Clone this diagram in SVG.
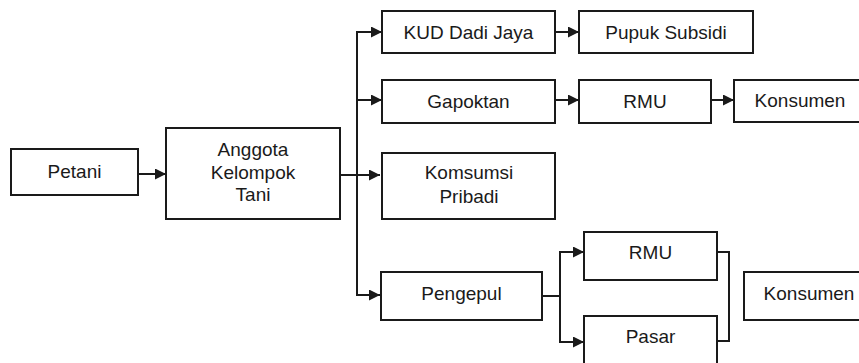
<svg xmlns="http://www.w3.org/2000/svg" width="859" height="363" viewBox="0 0 859 363">
<defs>
<style>
.box{fill:#fff;stroke:#1a1a1a;stroke-width:2}
.t{font-family:"Liberation Sans",Arial,sans-serif;font-size:19px;fill:#1a1a1a;text-anchor:middle}
.c{fill:none;stroke:#1a1a1a;stroke-width:2}
</style>
<marker id="ah" markerUnits="userSpaceOnUse" markerWidth="11" markerHeight="11" refX="11" refY="5.5" orient="auto" viewBox="0 0 11 11">
<path d="M0,0 L11,5.5 L0,11 z" fill="#1a1a1a"/>
</marker>
</defs>
<rect width="859" height="363" fill="#fff"/>
<g id="connectors">
<path class="c" d="M138,174 H166" marker-end="url(#ah)"/>
<path class="c" d="M340,175 H380" marker-end="url(#ah)"/>
<path class="c" d="M357,32 V295"/>
<path class="c" d="M356,32 H382" marker-end="url(#ah)"/>
<path class="c" d="M357,100 H382" marker-end="url(#ah)"/>
<path class="c" d="M356,295 H380" marker-end="url(#ah)"/>
<path class="c" d="M555,32 H579" marker-end="url(#ah)"/>
<path class="c" d="M555,100 H579" marker-end="url(#ah)"/>
<path class="c" d="M711,100 H734" marker-end="url(#ah)"/>
<path class="c" d="M542,296 H560"/>
<path class="c" d="M560,252 V342"/>
<path class="c" d="M559,252 H584" marker-end="url(#ah)"/>
<path class="c" d="M559,342 H584" marker-end="url(#ah)"/>
<path class="c" d="M717,252 H729 V341 H717"/>
</g>
<g id="petani"><rect class="box" x="11" y="149" width="127" height="46"/><text class="t" x="74.5" y="178">Petani</text></g>
<g id="anggota"><rect class="box" x="166" y="128" width="174" height="91"/><text class="t" x="253" y="156">Anggota</text><text class="t" x="253" y="179">Kelompok</text><text class="t" x="253" y="201">Tani</text></g>
<g id="kud"><rect class="box" x="382" y="11" width="173" height="42"/><text class="t" x="468.5" y="39">KUD Dadi Jaya</text></g>
<g id="pupuk"><rect class="box" x="579" y="11" width="174" height="42"/><text class="t" x="666" y="39">Pupuk Subsidi</text></g>
<g id="gapoktan"><rect class="box" x="382" y="80" width="173" height="43"/><text class="t" x="468.5" y="108">Gapoktan</text></g>
<g id="rmu1"><rect class="box" x="579" y="80" width="132" height="43"/><text class="t" x="645" y="108">RMU</text></g>
<g id="konsumen1"><rect class="box" x="734" y="80" width="135" height="42"/><text class="t" x="800" y="107">Konsumen</text></g>
<g id="komsumsi"><rect class="box" x="382" y="153" width="173" height="66"/><text class="t" x="469" y="179">Komsumsi</text><text class="t" x="469" y="203">Pribadi</text></g>
<g id="pengepul"><rect class="box" x="381" y="272" width="161" height="48"/><text class="t" x="461.5" y="300">Pengepul</text></g>
<g id="rmu2"><rect class="box" x="584" y="232" width="133" height="48"/><text class="t" x="650.5" y="259">RMU</text></g>
<g id="pasar"><rect class="box" x="584" y="316" width="133" height="52"/><text class="t" x="650.5" y="343">Pasar</text></g>
<g id="konsumen2"><rect class="box" x="744" y="272" width="130" height="48"/><text class="t" x="809" y="300">Konsumen</text></g>
</svg>
